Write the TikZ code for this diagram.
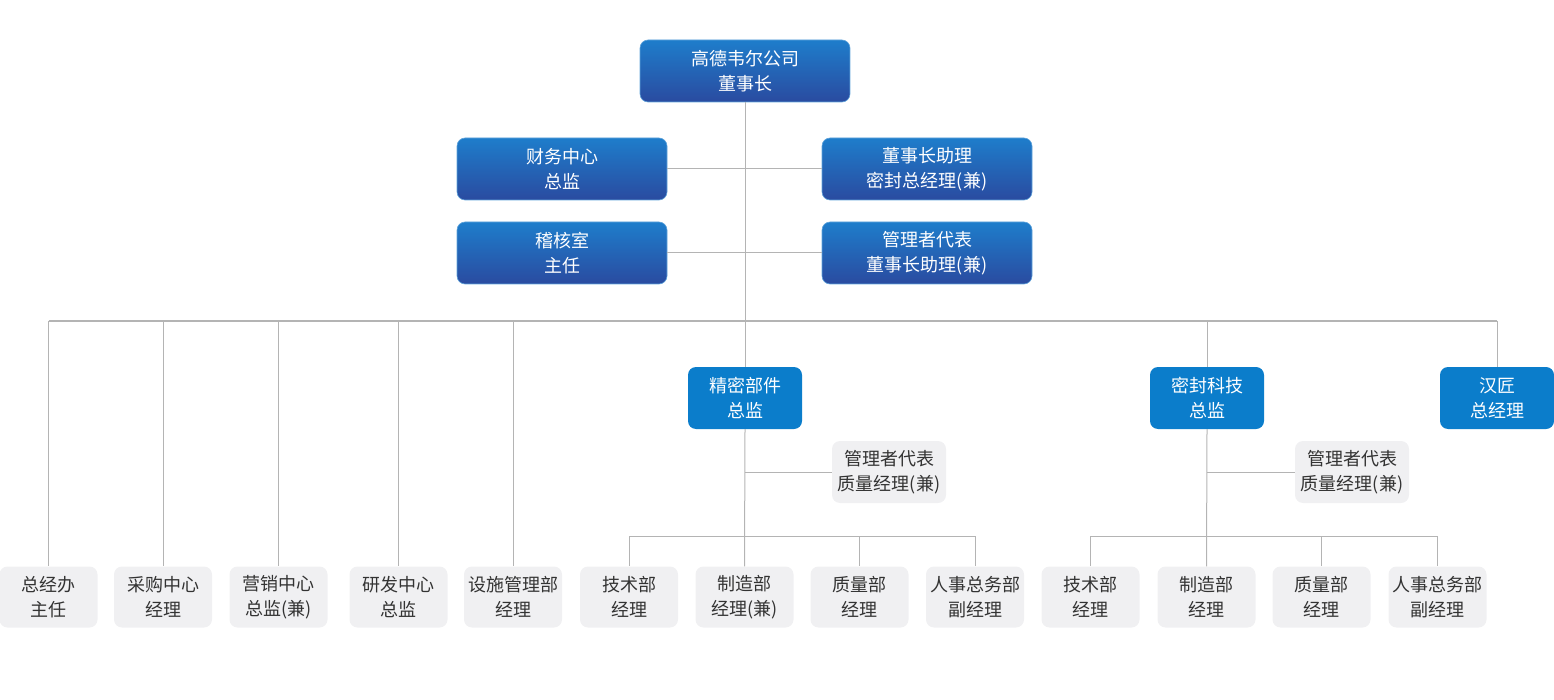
\documentclass[tikz,border=0pt]{standalone}
\usepackage{fontspec}
\setmainfont{Noto Sans CJK SC}
\definecolor{lineg}{HTML}{B4B4B4}
\definecolor{btop}{HTML}{1E7DCB}
\definecolor{bbot}{HTML}{2A4BA0}
\definecolor{bsolid}{HTML}{0B7DCB}
\definecolor{gbox}{HTML}{F0F0F2}
\definecolor{gtext}{HTML}{333333}
\tikzset{
  base/.style={rounded corners=8pt, align=center, inner sep=0pt,
    font=\fontsize{18}{25}\selectfont},
  topbox/.style={base, minimum width=210pt, minimum height=62pt,
    top color=btop, bottom color=bbot, draw=btop!70!white, line width=0.6pt, text=white},
  midbox/.style={base, minimum width=114pt, minimum height=62pt,
    fill=bsolid, text=white},
  graybox/.style={base, minimum width=114pt, minimum height=62pt,
    fill=gbox, text=gtext},
  leafbox/.style={base, minimum width=98pt, minimum height=61pt,
    fill=gbox, text=gtext},
  conn/.style={draw=lineg, line width=1pt}
}
\begin{document}
\begin{tikzpicture}[x=1pt,y=-1pt]
\useasboundingbox (0,0) rectangle (1554,700);
% nodes
\node[topbox] (ceo) at (745,71) {高德韦尔公司\\董事长};
\node[topbox] (cw) at (562,169) {财务中心\\总监};
\node[topbox] (zl) at (927,169) {董事长助理\\密封总经理(兼)};
\node[topbox] (jh) at (562,253) {稽核室\\主任};
\node[topbox] (gl) at (927,253) {管理者代表\\董事长助理(兼)};
\node[midbox] (jm) at (745,398) {精密部件\\总监};
\node[midbox] (mf) at (1207,398) {密封科技\\总监};
\node[midbox] (hj) at (1497,398) {汉匠\\总经理};
\node[graybox] (q1) at (889,472) {管理者代表\\质量经理(兼)};
\node[graybox] (q2) at (1352,472) {管理者代表\\质量经理(兼)};
\node[leafbox] (l1) at (48.5,597) {总经办\\主任};
\node[leafbox] (l2) at (163,597) {采购中心\\经理};
\node[leafbox] (l3) at (278.5,597) {营销中心\\总监(兼)};
\node[leafbox] (l4) at (398.5,597) {研发中心\\总监};
\node[leafbox] (l5) at (513,597) {设施管理部\\经理};
\node[leafbox] (a1) at (629,597) {技术部\\经理};
\node[leafbox] (a2) at (744.5,597) {制造部\\经理(兼)};
\node[leafbox] (a3) at (859.5,597) {质量部\\经理};
\node[leafbox] (a4) at (975,597) {人事总务部\\副经理};
\node[leafbox] (b1) at (1090.5,597) {技术部\\经理};
\node[leafbox] (b2) at (1206.5,597) {制造部\\经理};
\node[leafbox] (b3) at (1321.5,597) {质量部\\经理};
\node[leafbox] (b4) at (1437.5,597) {人事总务部\\副经理};
% bus coordinates
\coordinate (bus) at (744,321);
\coordinate (busA) at (744,536);
\coordinate (busB) at (1206,536);
% connectors
\path[conn] (ceo.south) -- (jm.north);
\path[conn] (cw.east) -- (cw.east -| ceo.south);
\path[conn] (zl.west) -- (zl.west -| ceo.south);
\path[conn] (jh.east) -- (jh.east -| ceo.south);
\path[conn] (gl.west) -- (gl.west -| ceo.south);
\path[conn] (l1.north |- bus) -- (hj.north |- bus);
\foreach \n in {l1,l2,l3,l4,l5,mf,hj} {\path[conn] (\n.north |- bus) -- (\n.north);}
\path[conn] (jm.south) -- (a2.north);
\path[conn] (mf.south) -- (b2.north);
\path[conn] (q1.west) -- (q1.west -| jm.south);
\path[conn] (q2.west) -- (q2.west -| mf.south);
\path[conn] (a1.north |- busA) -- (a4.north |- busA);
\path[conn] (b1.north |- busB) -- (b4.north |- busB);
\foreach \n in {a1,a3,a4} {\path[conn] (\n.north |- busA) -- (\n.north);}
\foreach \n in {b1,b3,b4} {\path[conn] (\n.north |- busB) -- (\n.north);}
\end{tikzpicture}
\end{document}
